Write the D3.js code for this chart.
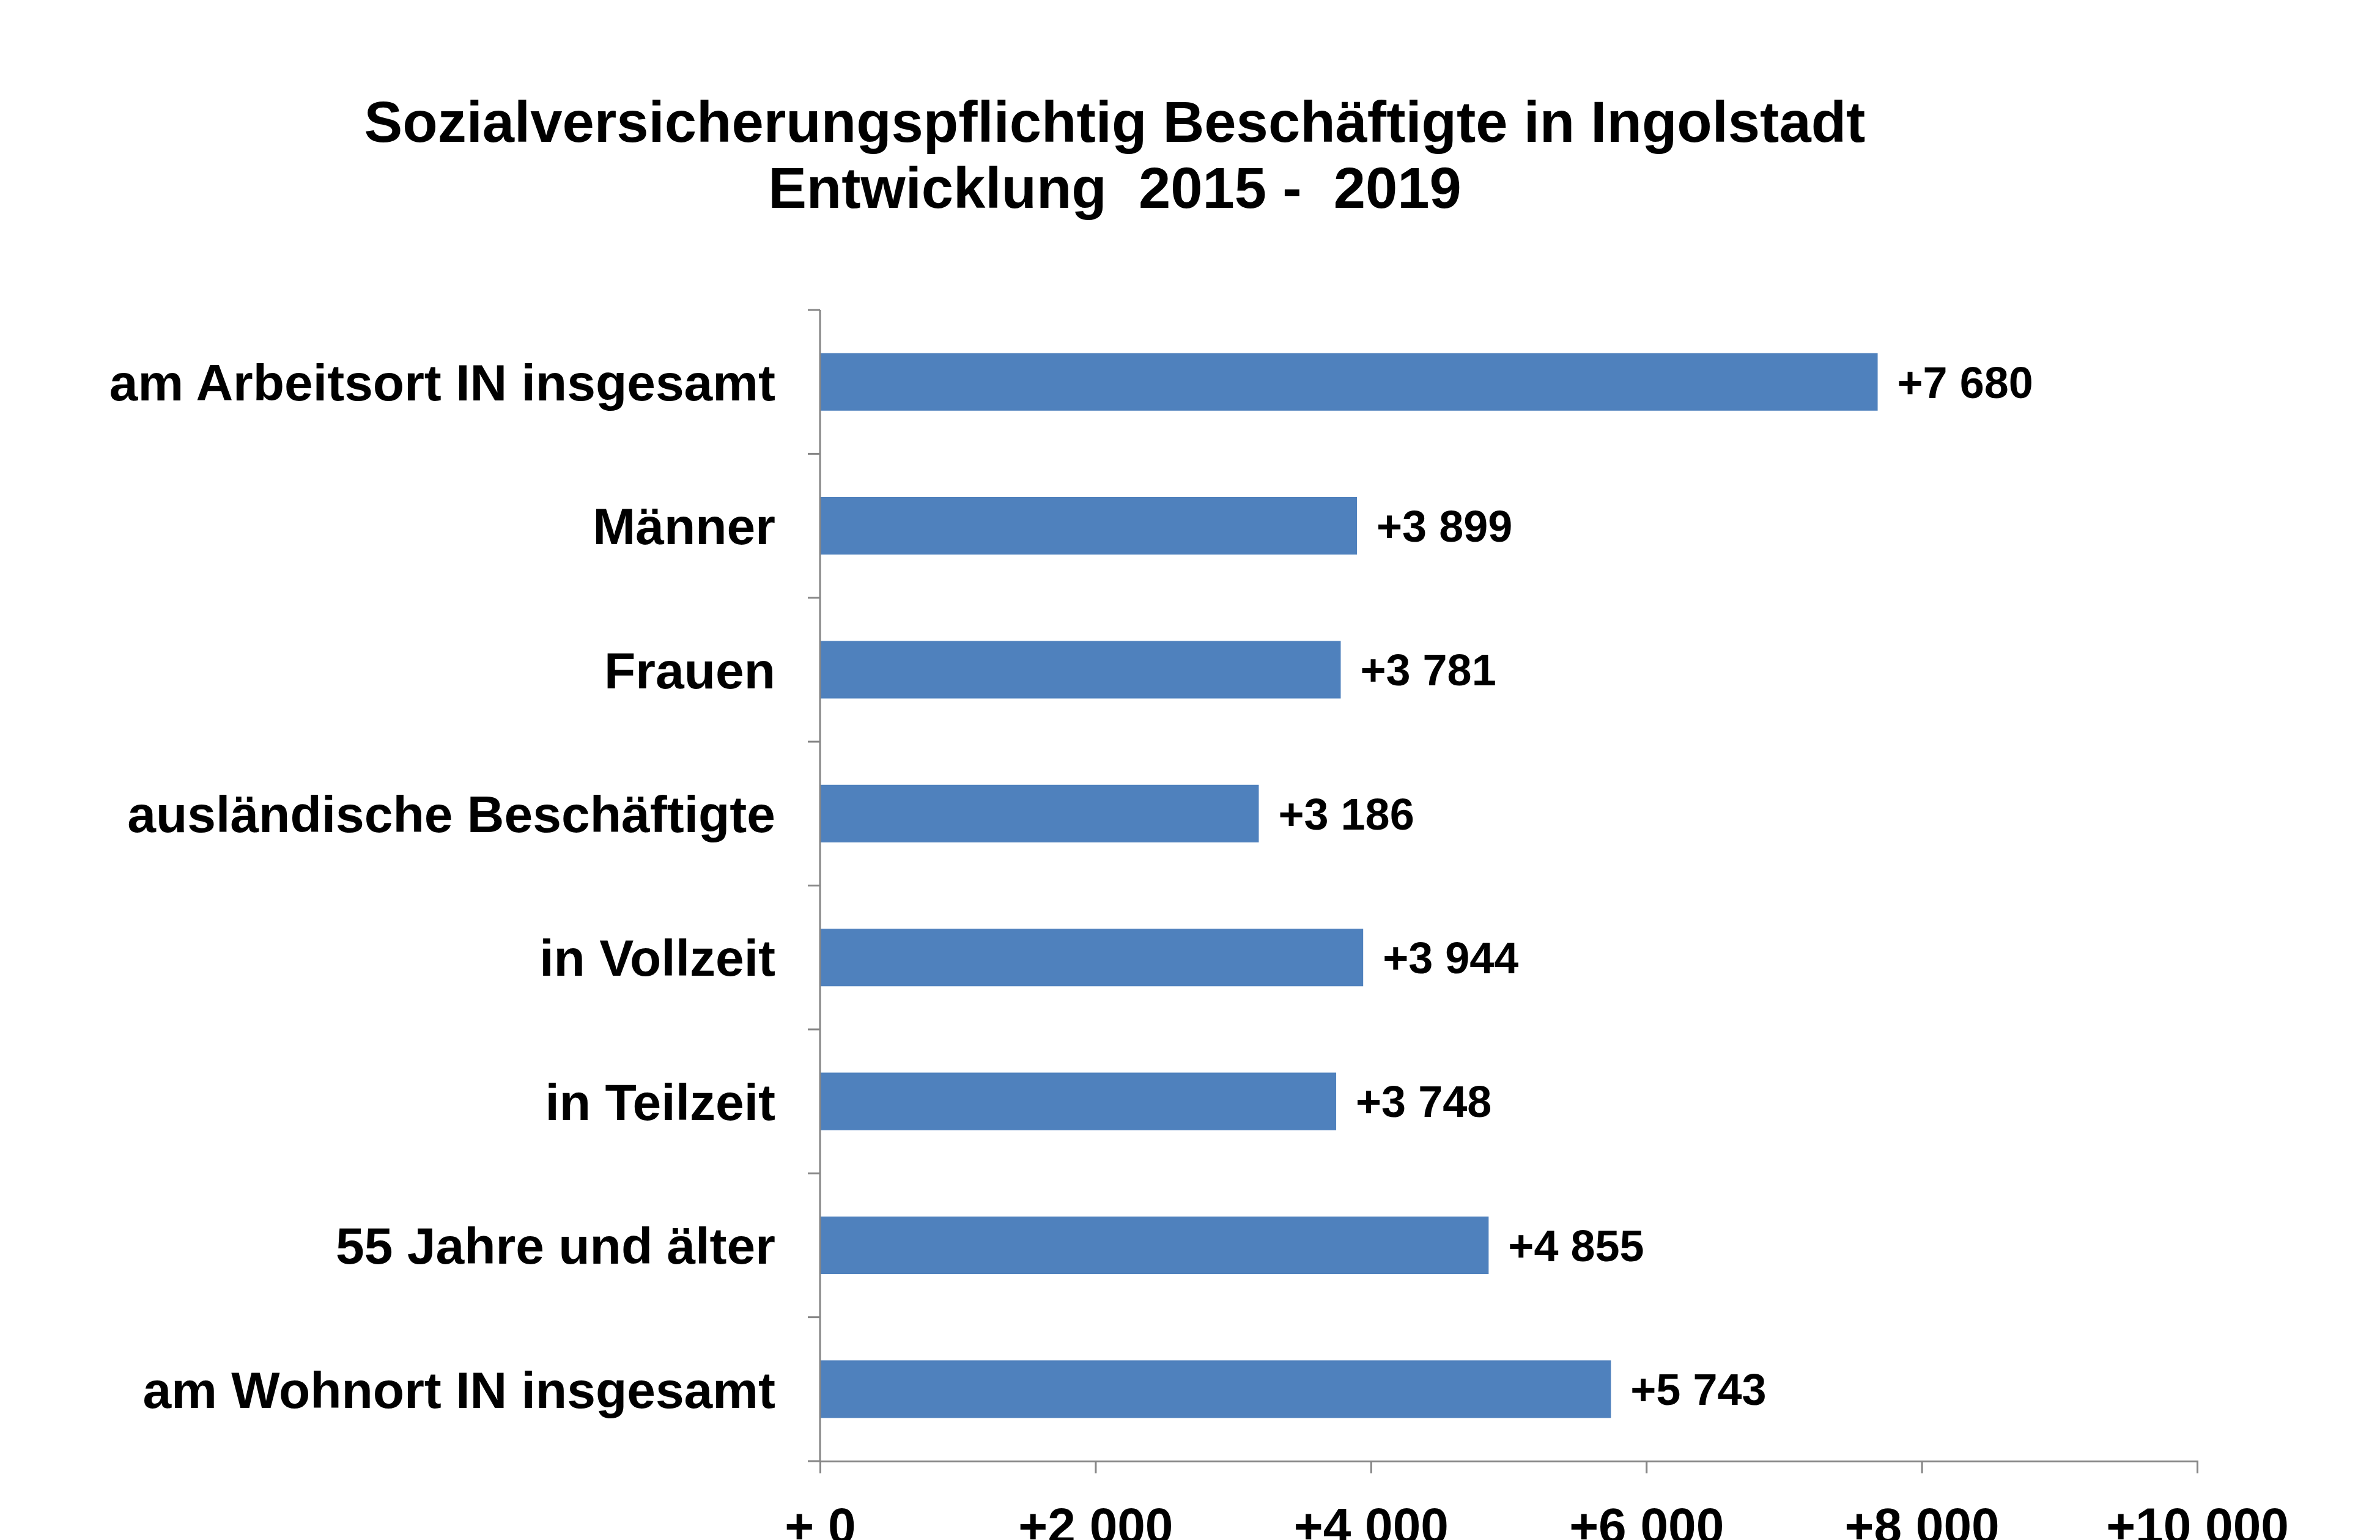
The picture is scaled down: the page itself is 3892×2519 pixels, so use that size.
<!DOCTYPE html>
<html><head><meta charset="utf-8">
<script src="https://cdn.jsdelivr.net/npm/d3@7"></script>
<style>body{margin:0;background:#fff} text{white-space:pre}</style>
</head><body>
<script>
const categories = ["am Arbeitsort IN insgesamt","Männer","Frauen","ausländische Beschäftigte","in Vollzeit","in Teilzeit","55 Jahre und älter","am Wohnort IN insgesamt"];
const values = [7680,3899,3781,3186,3944,3748,4855,5743];
const tickValues = [0,2000,4000,6000,8000,10000];
const titleLines = ["Sozialversicherungspflichtig Beschäftigte in Ingolstadt","Entwicklung  2015 -  2019"];

const W = 3892, H = 2519;
const fmt = v => (v === 0 ? "+ 0" : "+" + d3.format(",")(v).replace(/,/g, " "));
const svg = d3.select("body").append("svg").attr("width", W).attr("height", H)
  .attr("font-family", "Arial, 'Liberation Sans', sans-serif").attr("font-weight", "bold");

const x = d3.scaleLinear().domain([0, 10000]).range([1341, 3593]);
const y = d3.scaleBand().domain(categories).range([507, 2390]).paddingInner(0.6).paddingOuter(0.3);

svg.selectAll(".title").data(titleLines).join("text").attr("class","title")
  .attr("x", 1823).attr("y", (d,i) => 232 + i*108).attr("text-anchor","middle")
  .attr("font-size", 94).attr("fill","#000").text(d => d);

svg.selectAll(".bar").data(values).join("rect").attr("class","bar")
  .attr("x", x(0)).attr("y", (d,i) => y(categories[i]))
  .attr("width", d => x(d) - x(0)).attr("height", y.bandwidth()).attr("fill","#4F81BD");

svg.selectAll(".val").data(values).join("text").attr("class","val")
  .attr("x", d => x(d) + 32).attr("y", (d,i) => y(categories[i]) + y.bandwidth()/2)
  .attr("dy","0.36em").attr("font-size", 72).text(d => fmt(d));

// y axis
const step = (2390 - 507) / categories.length;
svg.append("line").attr("x1", x(0)).attr("x2", x(0)).attr("y1", 507).attr("y2", 2390).attr("stroke","#868686").attr("stroke-width",3);
svg.selectAll(".ytick").data(d3.range(categories.length + 1)).join("line")
  .attr("x1", x(0) - 20).attr("x2", x(0)).attr("y1", i => 507 + i*step).attr("y2", i => 507 + i*step)
  .attr("stroke","#868686").attr("stroke-width",3);
svg.selectAll(".cat").data(categories).join("text").attr("class","cat")
  .attr("x", 1268).attr("y", d => y(d) + y.bandwidth()/2).attr("dy","0.36em")
  .attr("text-anchor","end").attr("font-size", 84).text(d => d);

// x axis
const xa = svg.append("g").attr("transform", `translate(0,2390)`)
  .call(d3.axisBottom(x).tickValues(tickValues).tickSize(20).tickFormat(fmt));
xa.select(".domain").attr("stroke","#868686").attr("stroke-width",3);
xa.selectAll(".tick line").attr("stroke","#868686").attr("stroke-width",3);
xa.selectAll(".tick text").attr("font-size", 82).attr("font-family","Arial, 'Liberation Sans', sans-serif")
  .attr("font-weight","bold").attr("fill","#000").attr("y", 104).attr("dy", "0.36em");
</script>
</body></html>
